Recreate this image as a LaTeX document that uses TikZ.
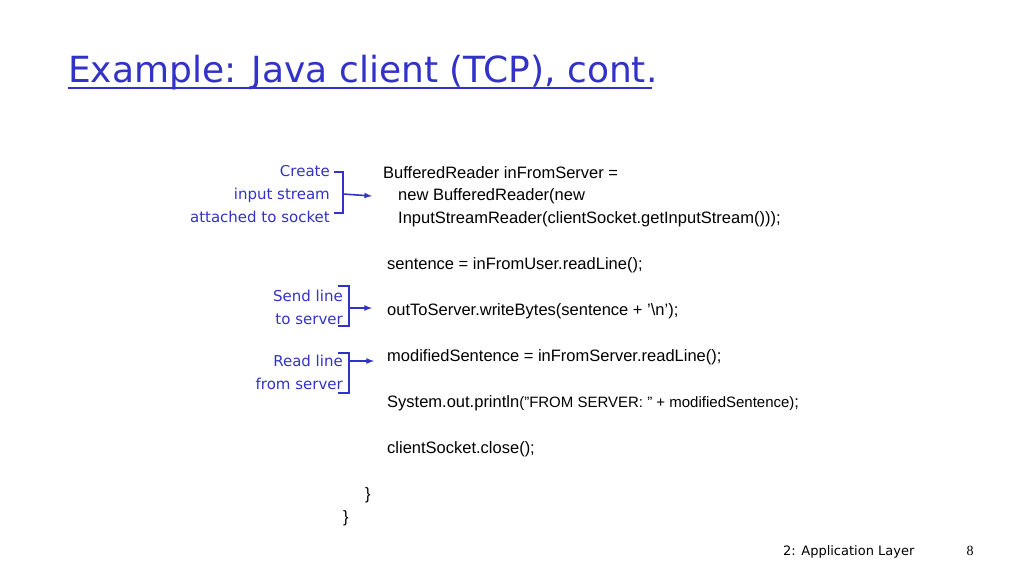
\documentclass[tikz,border=0pt]{standalone}
\usepackage{fontspec}
\setmainfont{Liberation Sans}
\newfontfamily\bluefont{DejaVu Sans}
\newfontfamily\seriffont{Liberation Serif}
\definecolor{lblue}{RGB}{50,50,200}
\begin{document}
\begin{tikzpicture}[x=1pt,y=-1pt,
  code/.style={anchor=west,inner sep=0pt,font=\fontsize{16.5}{18}\selectfont},
  lab/.style={anchor=east,inner sep=0pt,align=right,text=lblue,font=\bluefont\fontsize{15}{23}\selectfont},
  brk/.style={draw=lblue,line width=1.6pt},
  arr/.style={draw=lblue,line width=1.6pt,-latex}]
\useasboundingbox (0,0) rectangle (1024,576);
\node[anchor=base west,inner sep=0pt,text=lblue,font=\bluefont\fontsize{36}{40}\selectfont] (title) at (68,82) {Example: Java client (TCP), cont.};
\draw[lblue,line width=1.5pt] (68,88) -- (652,88);
\node[code] (c1) at (383,173) {BufferedReader inFromServer =};
\node[code] (c2) at (398,196) {new BufferedReader(new};
\node[code] (c3) at (398,219) {InputStreamReader(clientSocket.getInputStream()));};
\node[code] (c4) at (387,265) {sentence = inFromUser.readLine();};
\node[code] (c5) at (387,311) {outToServer.writeBytes(sentence + '\textbackslash n');};
\node[code] (c6) at (387,357) {modifiedSentence = inFromServer.readLine();};
\node[code] (c7) at (387,403) {System.out.println{\fontsize{15}{18}\selectfont("FROM SERVER: " + modifiedSentence)};};
\node[code] (c8) at (387,449) {clientSocket.close();};
\node[code] (c9) at (365,495) {\}};
\node[code] (c10) at (343,518) {\}};
\node[lab] (l1) at (330,194) {Create\\input stream\\attached to socket};
\node[lab] (l2) at (343,307) {Send line\\to server};
\node[lab] (l3) at (343,372) {Read line\\from server};
\draw[brk] (334,172) -- (343,172) -- (343,213) -- (334,213);
\coordinate (a1) at (343,194);
\draw[arr] (a1) -- (c2.west -| 372,194);
\draw[brk] (338,286) -- (349,286) -- (349,326) -- (338,326);
\coordinate (a2) at (349,308);
\draw[arr] (a2) -- (372,308);
\draw[brk] (338,353) -- (349,353) -- (349,393) -- (338,393);
\coordinate (a3) at (349,361);
\draw[arr] (a3) -- (374,361);
\node[anchor=base west,inner sep=0pt,font=\bluefont\fontsize{13}{15}\selectfont] (f1) at (783,555) {2: Application Layer};
\node[anchor=base,inner sep=0pt,font=\seriffont\fontsize{14}{15}\selectfont] (f2) at (970,555) {8};
\end{tikzpicture}
\end{document}
